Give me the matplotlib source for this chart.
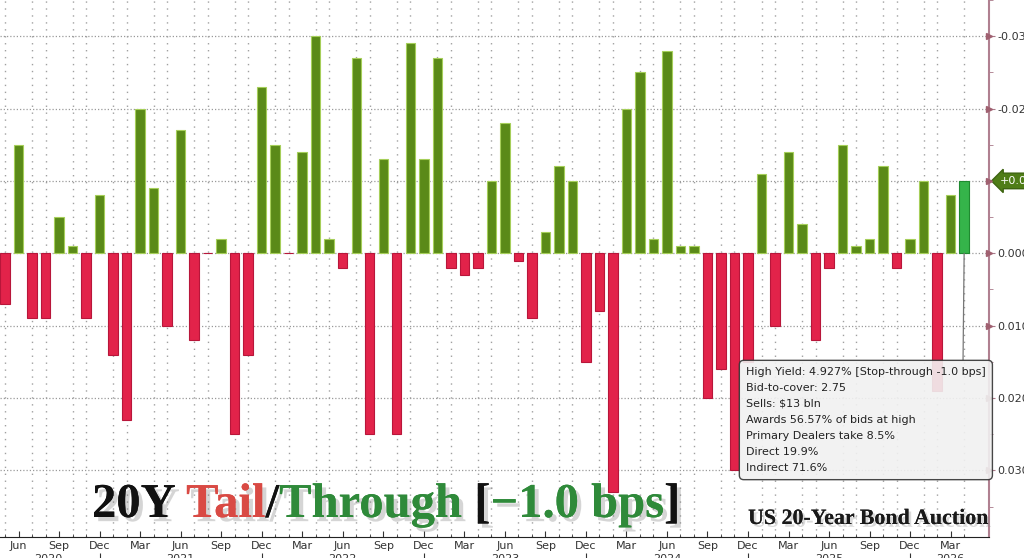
import numpy as np
import matplotlib.pyplot as plt
import matplotlib.patheffects as pe

# 20Y auction tail (+) / stop-through (-), in percent, May 2020 .. Apr 2026
tail_2020 = [0.007, -0.015, 0.009, 0.009, -0.005, -0.001, 0.009, -0.008]
tail_2021 = [0.014, 0.023, -0.020, -0.009, 0.010, -0.017, 0.012, 0.0, -0.002, 0.025, 0.014, -0.023]
tail_2022 = [-0.015, 0.0, -0.014, -0.030, -0.002, 0.002, -0.027, 0.025, -0.013, 0.025, -0.029, -0.013]
tail_2023 = [-0.027, 0.002, 0.003, 0.002, -0.010, -0.018, 0.001, 0.009, -0.003, -0.012, -0.010, 0.015]
tail_2024 = [0.008, 0.033, -0.020, -0.025, -0.002, -0.028, -0.001, -0.001, 0.020, 0.016, 0.030, 0.015]
tail_2025 = [-0.011, 0.010, -0.014, -0.004, 0.012, 0.002, -0.015, -0.001, -0.002, -0.012, 0.002, -0.002]
tail_2026 = [-0.010, 0.019, -0.008, -0.010]

month_names = ["Jan", "Feb", "Mar", "Apr", "May", "Jun",
               "Jul", "Aug", "Sep", "Oct", "Nov", "Dec"]
start_month = 4  # May
years = ["2020", "2021", "2022", "2023", "2024", "2025", "2026"]
year_pos = [3.2, 13, 25, 37, 49, 61, 70]

box_lines = ["High Yield: 4.927% [Stop-through -1.0 bps]",
             "Bid-to-cover: 2.75",
             "Sells: $13 bln",
             "Awards 56.57% of bids at high",
             "Primary Dealers take 8.5%",
             "Direct 19.9%",
             "Indirect 71.6%"]

tail = np.array(tail_2020 + tail_2021 + tail_2022 + tail_2023 + tail_2024 + tail_2025 + tail_2026)
n = len(tail)
x = np.arange(n)

colors = np.where(tail < 0, "#5a8a18", "#e2234a")
edges = np.where(tail < 0, "#a6cf5a", "#b8163a")
colors[-1] = "#35b44a"
edges[-1] = "#1f8a30"

fig = plt.figure(figsize=(10.24, 5.58), dpi=100)
ax = fig.add_axes([0, 21 / 558, 989 / 1024, 537 / 558])

ax.bar(x, tail, width=0.7, color=colors, edgecolor=edges, linewidth=0.8, zorder=3)

ax.set_xlim(-0.37, 72.84)
ax.set_ylim(0.0392, -0.0349)

# x axis: month labels every quarter, minor tick each month
mlabels = [month_names[(start_month + i) % 12] for i in range(n)]
major = [i for i in range(n) if mlabels[i] in ("Mar", "Jun", "Sep", "Dec")]
ax.set_xticks(major)
ax.set_xticklabels([mlabels[i] for i in major], fontsize=8, color="#333333")
ax.set_xticks(x, minor=True)
ax.tick_params(axis="x", which="major", direction="in", length=4, pad=3, color="#333333")
ax.tick_params(axis="x", which="minor", direction="in", length=2, color="#333333")

for yr, p in zip(years, year_pos):
    ax.annotate(yr, xy=(p, 0), xycoords=("data", "axes fraction"), xytext=(0, -17),
                textcoords="offset pixels", ha="center", va="top", fontsize=8, color="#333333",
                annotation_clip=False)
dec_idx = [i for i in range(n) if mlabels[i] == "Dec"]
ax.vlines(dec_idx, -0.03, -0.05, transform=ax.get_xaxis_transform(), clip_on=False,
          color="#333333", lw=0.8)

# y axis on the right
yt = np.round(np.arange(-0.03, 0.0301, 0.01), 3)
ax.yaxis.tick_right()
ax.set_yticks(yt)
ylab = []
for v in yt:
    v = 0.0 if abs(v) < 1e-9 else v
    ylab.append("" if np.isclose(v, -0.01) else f"{v:.3f}")
ax.set_yticklabels(ylab, fontsize=8, color="#333333")
ax.set_yticks(np.arange(-0.035, 0.036, 0.005), minor=True)
ax.tick_params(axis="y", which="major", direction="out", length=4, pad=2, color="#a87888")
ax.tick_params(axis="y", which="minor", direction="out", length=3, color="#a87888")
ax.plot(np.ones(len(yt)), yt, ">", color="#a06070", markersize=5,
        transform=ax.get_yaxis_transform(), clip_on=False, zorder=5)

ax.annotate("+0.010", xy=(1, -0.010), xycoords=("axes fraction", "data"), xytext=(8, 0),
            textcoords="offset points", va="center", ha="left", fontsize=8, color="white",
            bbox=dict(boxstyle="larrow,pad=0.25", fc="#4f7d17", ec="#3d6410"),
            annotation_clip=False)

for s in ("top", "left"):
    ax.spines[s].set_visible(False)
ax.spines["right"].set_color("#b08090")
ax.spines["right"].set_linewidth(1.5)
ax.spines["bottom"].set_color("#222222")

# grids
ax.set_axisbelow(True)
ax.grid(axis="y", which="major", linestyle=(0, (1, 1.6)), color="#9a9a9a", lw=0.9)
ax.grid(axis="x", which="minor", linestyle=(0, (1, 4)), color="#a0a0a0", lw=1.0)

# info box tied to the latest auction
ax.annotate("\n".join(box_lines), xy=(x[-1], 0), xycoords="data",
            xytext=(746 / 1024, 1 - 367 / 558), textcoords="figure fraction",
            ha="left", va="top", fontsize=8, linespacing=1.75, color="#222222",
            family="DejaVu Sans",
            bbox=dict(boxstyle="round,pad=0.6,rounding_size=0.4", fc="#f1f1f1",
                      ec="#333333", alpha=0.9, lw=1),
            arrowprops=dict(arrowstyle="-", color="#777777", lw=0.9, relpos=(0.905, 1.0),
                            shrinkA=0, shrinkB=0),
            zorder=6)

# big title with colored parts
shadow = [pe.withSimplePatchShadow(offset=(3, -3), shadow_rgbFace="#777777", alpha=0.3),
          pe.Normal()]
parts = [("20Y ", "#111111"), ("Tail", "#d94a44"), ("/", "#111111"),
         ("Through ", "#2f8a3a"), ("[", "#111111"), ("\u22121.0 bps", "#2f8a3a"),
         ("]", "#111111")]
prev = fig.text(92 / 1024, 1 - 517 / 558, parts[0][0], fontsize=35, fontweight="bold",
                family="Liberation Serif", color=parts[0][1], va="baseline", path_effects=shadow)
for txt, col in parts[1:]:
    prev = ax.annotate(txt, xy=(1, 0), xycoords=prev, va="bottom", ha="left", fontsize=35,
                       fontweight="bold", family="Liberation Serif", color=col,
                       path_effects=shadow, annotation_clip=False)

fig.text(748 / 1024, 1 - 524 / 558, "US 20-Year Bond Auction", fontsize=15.8, fontweight="bold",
         family="Liberation Serif", color="#1a1a1a", va="baseline",
         path_effects=[pe.withSimplePatchShadow(offset=(2, -2), shadow_rgbFace="#888888", alpha=0.3),
                       pe.Normal()])

fig.savefig("out.png", dpi=100)
